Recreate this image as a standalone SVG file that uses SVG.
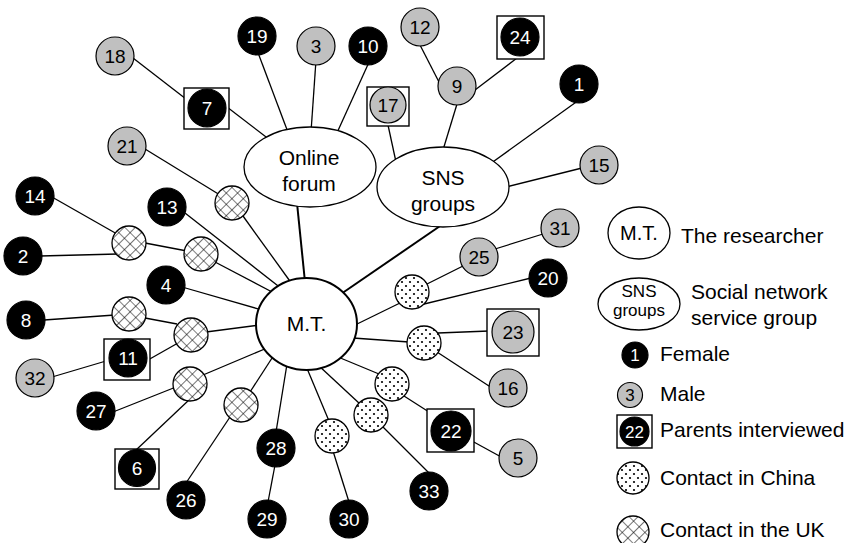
<svg xmlns="http://www.w3.org/2000/svg" width="852" height="543" viewBox="0 0 852 543">
<style>
text{font-family:"Liberation Sans",Arial,sans-serif;text-anchor:middle}
.n{font-size:19px}
.f circle{fill:#000;stroke:#000;stroke-width:1.2}
.f text{fill:#fff}
.m circle{fill:#c0c0c0;stroke:#000;stroke-width:1.2}
.m text{fill:#000}
.box{fill:#fff;stroke:#000;stroke-width:1.4}
.x{fill:url(#xh);stroke:#000;stroke-width:1.3}
.d{fill:url(#dt);stroke:#000;stroke-width:1.3}
.hub{fill:#fff;stroke:#000;stroke-width:1.3}
.lg{font-size:21px;text-anchor:start}
#edges line{stroke:#000;stroke-width:1.3}
#edges line.t{stroke-width:2}
</style>
<defs>
<pattern id="xh" width="8" height="8" patternUnits="userSpaceOnUse" patternTransform="rotate(45)">
<rect width="8" height="8" fill="#fff"/>
<path d="M0 0H8M0 0V8" stroke="#000" stroke-width="1.1"/>
</pattern>
<pattern id="dt" width="8" height="8" patternUnits="userSpaceOnUse">
<rect width="8" height="8" fill="#fff"/>
<circle cx="2" cy="2" r="1.1" fill="#000"/>
<circle cx="6" cy="6" r="1.1" fill="#000"/>
</pattern>
</defs>
<rect width="852" height="543" fill="#fff"/>
<g id="edges">
<line x1="133" y1="58" x2="186" y2="99"/>
<line x1="227" y1="107" x2="270" y2="140"/>
<line x1="257" y1="50" x2="289" y2="135"/>
<line x1="316" y1="60" x2="311" y2="132"/>
<line x1="370" y1="60" x2="336" y2="135"/>
<line class="t" x1="297" y1="203" x2="305" y2="282"/>
<line class="t" x1="443" y1="224" x2="341" y2="294"/>
<line x1="420" y1="45" x2="440" y2="84"/>
<line x1="517" y1="58" x2="475" y2="90"/>
<line x1="457" y1="104" x2="443" y2="150"/>
<line x1="388" y1="125" x2="396" y2="162"/>
<line x1="579" y1="100" x2="490" y2="164"/>
<line x1="582" y1="168" x2="506" y2="187"/>
<line x1="145" y1="149" x2="220" y2="195"/>
<line x1="243" y1="216" x2="292" y2="284"/>
<line x1="185" y1="213" x2="282" y2="289"/>
<line x1="52" y1="197" x2="117" y2="234"/>
<line x1="40" y1="256" x2="118" y2="254"/>
<line x1="145" y1="243" x2="187" y2="251"/>
<line x1="215" y1="262" x2="274" y2="293"/>
<line x1="182" y1="287" x2="262" y2="310"/>
<line x1="44" y1="320" x2="115" y2="315"/>
<line x1="145" y1="318" x2="177" y2="324"/>
<line x1="206" y1="332" x2="260" y2="325"/>
<line x1="148" y1="360" x2="178" y2="343"/>
<line x1="52" y1="377" x2="106" y2="361"/>
<line x1="203" y1="375" x2="267" y2="348"/>
<line x1="113" y1="412" x2="176" y2="387"/>
<line x1="190" y1="399" x2="135" y2="451"/>
<line x1="250" y1="392" x2="274" y2="355"/>
<line x1="230" y1="417" x2="186" y2="483"/>
<line x1="276" y1="432" x2="287" y2="364"/>
<line x1="275" y1="465" x2="268" y2="502"/>
<line x1="329" y1="421" x2="306" y2="366"/>
<line x1="333" y1="451" x2="349" y2="502"/>
<line x1="360" y1="404" x2="318" y2="365"/>
<line x1="382" y1="426" x2="430" y2="474"/>
<line x1="379" y1="374" x2="338" y2="357"/>
<line x1="404" y1="396" x2="429" y2="412"/>
<line x1="472" y1="441" x2="503" y2="458"/>
<line x1="400" y1="303" x2="353" y2="326"/>
<line x1="427" y1="284" x2="463" y2="266"/>
<line x1="495" y1="249" x2="543" y2="234"/>
<line x1="420" y1="305" x2="531" y2="278"/>
<line x1="409" y1="342" x2="353" y2="338"/>
<line x1="438" y1="333" x2="489" y2="331"/>
<line x1="437" y1="352" x2="492" y2="388"/>
</g>
<g id="forum"><ellipse class="hub" cx="310" cy="167" rx="66" ry="40"/><text x="309" y="165" font-size="21">Online</text><text x="309" y="191" font-size="21">forum</text></g>
<g id="sns"><ellipse class="hub" cx="443" cy="187" rx="66" ry="40"/><text x="443" y="185" font-size="21">SNS</text><text x="443" y="211" font-size="21">groups</text></g>
<g id="mt"><ellipse class="hub" style="stroke-width:2" cx="306.5" cy="324" rx="50.5" ry="46"/><text x="306.5" y="331" font-size="21">M.T.</text></g>
<g id="n19" class="f"><circle cx="257" cy="36" r="19"/><text class="n" x="257" y="43">19</text></g>
<g id="n10" class="f"><circle cx="368" cy="46" r="19"/><text class="n" x="368" y="53">10</text></g>
<g id="n24" class="f"><rect class="box" x="497" y="16" width="47" height="43"/><circle cx="520" cy="37" r="19"/><text class="n" x="520" y="44">24</text></g>
<g id="n1" class="f"><circle cx="579" cy="84" r="19"/><text class="n" x="579" y="91">1</text></g>
<g id="n7" class="f"><rect class="box" x="184" y="88" width="45" height="41"/><circle cx="207" cy="108" r="19"/><text class="n" x="207" y="115">7</text></g>
<g id="n14" class="f"><circle cx="35" cy="196" r="19"/><text class="n" x="35" y="203">14</text></g>
<g id="n13" class="f"><circle cx="167" cy="207" r="19"/><text class="n" x="167" y="214">13</text></g>
<g id="n2" class="f"><circle cx="23" cy="256" r="19"/><text class="n" x="23" y="263">2</text></g>
<g id="n4" class="f"><circle cx="166" cy="285" r="19"/><text class="n" x="166" y="292">4</text></g>
<g id="n8" class="f"><circle cx="26" cy="320" r="19"/><text class="n" x="26" y="327">8</text></g>
<g id="n11" class="f"><rect class="box" x="104" y="339" width="46" height="41"/><circle cx="128" cy="358" r="19"/><text class="n" x="128" y="365">11</text></g>
<g id="n27" class="f"><circle cx="96" cy="411" r="19"/><text class="n" x="96" y="418">27</text></g>
<g id="n6" class="f"><rect class="box" x="115" y="449" width="44" height="40"/><circle cx="137" cy="468" r="18.5"/><text class="n" x="137" y="475">6</text></g>
<g id="n26" class="f"><circle cx="186" cy="500" r="19"/><text class="n" x="186" y="507">26</text></g>
<g id="n28" class="f"><circle cx="276" cy="448" r="19"/><text class="n" x="276" y="455">28</text></g>
<g id="n29" class="f"><circle cx="267" cy="519" r="19"/><text class="n" x="267" y="526">29</text></g>
<g id="n30" class="f"><circle cx="349" cy="519" r="19"/><text class="n" x="349" y="526">30</text></g>
<g id="n20" class="f"><circle cx="548" cy="278" r="19"/><text class="n" x="548" y="285">20</text></g>
<g id="n22" class="f"><rect class="box" x="427" y="409" width="47" height="43"/><circle cx="451" cy="431" r="20"/><text class="n" x="451" y="438">22</text></g>
<g id="n33" class="f"><circle cx="429" cy="491" r="19"/><text class="n" x="429" y="498">33</text></g>
<g id="n18" class="m"><circle cx="115" cy="56" r="19"/><text class="n" x="115" y="63">18</text></g>
<g id="n3" class="m"><circle cx="316" cy="46" r="19"/><text class="n" x="316" y="53">3</text></g>
<g id="n12" class="m"><circle cx="420" cy="27" r="19"/><text class="n" x="420" y="34">12</text></g>
<g id="n9" class="m"><circle cx="457" cy="86" r="19"/><text class="n" x="457" y="93">9</text></g>
<g id="n17" class="m"><rect class="box" x="367" y="87" width="42" height="39"/><circle cx="388" cy="105" r="18"/><text class="n" x="388" y="112">17</text></g>
<g id="n21" class="m"><circle cx="127" cy="146" r="19"/><text class="n" x="127" y="153">21</text></g>
<g id="n15" class="m"><circle cx="599" cy="165" r="19"/><text class="n" x="599" y="172">15</text></g>
<g id="n31" class="m"><circle cx="560" cy="228" r="19"/><text class="n" x="560" y="235">31</text></g>
<g id="n25" class="m"><circle cx="479" cy="257" r="19"/><text class="n" x="479" y="264">25</text></g>
<g id="n23" class="m"><rect class="box" x="487" y="309" width="52" height="47"/><circle cx="513" cy="332" r="21"/><text class="n" x="513" y="339">23</text></g>
<g id="n16" class="m"><circle cx="508" cy="388" r="19"/><text class="n" x="508" y="395">16</text></g>
<g id="n5" class="m"><circle cx="518" cy="458" r="19"/><text class="n" x="518" y="465">5</text></g>
<g id="n32" class="m"><circle cx="35" cy="378" r="19"/><text class="n" x="35" y="385">32</text></g>
<g id="xa"><circle class="x" cx="232" cy="203" r="17"/></g>
<g id="x1"><circle class="x" cx="129" cy="243" r="17"/></g>
<g id="x2"><circle class="x" cx="201" cy="254" r="17"/></g>
<g id="x3"><circle class="x" cx="129" cy="314" r="17"/></g>
<g id="x4"><circle class="x" cx="191" cy="335" r="17"/></g>
<g id="x5"><circle class="x" cx="190" cy="384" r="17"/></g>
<g id="x6"><circle class="x" cx="241" cy="405" r="17"/></g>
<g id="d1"><circle class="d" cx="332" cy="436" r="17"/></g>
<g id="d2"><circle class="d" cx="371" cy="415" r="17"/></g>
<g id="d3"><circle class="d" cx="392" cy="384" r="17"/></g>
<g id="d4"><circle class="d" cx="412" cy="292" r="17"/></g>
<g id="d5"><circle class="d" cx="424" cy="343" r="17"/></g>
<g id="legend">
<ellipse class="hub" cx="639" cy="233" rx="31" ry="26"/><text x="639" y="240" font-size="20">M.T.</text>
<text class="lg" x="681" y="243">The researcher</text>
<ellipse class="hub" cx="639" cy="304" rx="41" ry="26"/><text x="639" y="297" font-size="17">SNS</text><text x="639" y="316" font-size="17">groups</text>
<text class="lg" x="691" y="299">Social network</text>
<text class="lg" x="691" y="325">service group</text>
<g class="f"><circle cx="635" cy="355" r="13"/><text x="635" y="361" font-size="17">1</text></g>
<text class="lg" x="660" y="361">Female</text>
<g class="m"><circle cx="630" cy="395" r="12.5"/><text x="630" y="401" font-size="17">3</text></g>
<text class="lg" x="660" y="401">Male</text>
<rect class="box" x="617" y="415" width="35" height="33"/>
<g class="f"><circle cx="634.5" cy="431.5" r="14.5"/><text x="634.5" y="437.5" font-size="17">22</text></g>
<text class="lg" x="660" y="437">Parents interviewed</text>
<circle class="d" cx="633" cy="478" r="16"/>
<text class="lg" x="660" y="485">Contact in China</text>
<circle class="x" cx="633" cy="532" r="16"/>
<text class="lg" x="660" y="537">Contact in the UK</text>
</g>
</svg>
